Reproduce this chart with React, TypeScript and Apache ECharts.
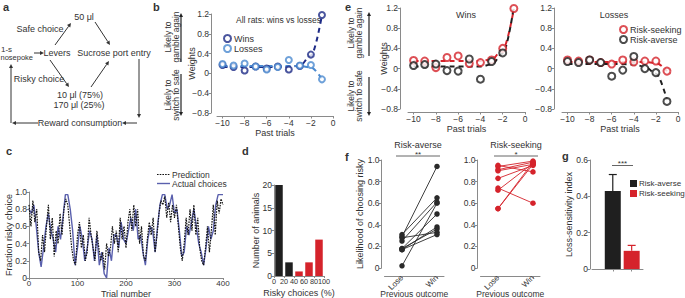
import React, { useEffect, useRef } from "react";
import * as echarts from "echarts";

const FONT = "'Liberation Sans', Arial, Helvetica, sans-serif";
const AX = "#8a8a8a";
const TX = "#333333";
const NAVY = "#1d2a86";
const LIGHT = "#4b8ad0";
const RED = "#d5232b";
const BLACK = "#1f1f1f";
const CBLUE = "#5a60ad";

// ---- panel b ----
const pastTrials = [-10, -9, -8, -7, -6, -5, -4, -3, -2, -1];
const pastTrialTicks = [-10, -8, -6, -4, -2, 0];
const bWins = [0.17, 0.13, 0.06, 0.14, 0.1, 0.14, 0.08, 0.15, 0.38, 1.18];
const bLosses = [0.19, 0.16, 0.2, 0.14, 0.08, 0.13, 0.27, 0.16, 0.17, -0.12];
const bWinsFit = [0.13, 0.13, 0.13, 0.13, 0.13, 0.13, 0.13, 0.16, 0.36, 1.18];
const bLossesFit = [0.15, 0.15, 0.15, 0.15, 0.15, 0.15, 0.15, 0.15, 0.12, -0.12];

// ---- panel e ----
const eWinsSeek = [0.16, 0.15, 0.02, 0.22, 0.25, 0.1, 0.12, 0.17, 0.4, 1.19];
const eWinsAverse = [0.06, 0.08, 0.09, -0.04, -0.05, 0.19, -0.21, 0.14, 0.31, 1.22];
const eWinsSeekFit = [0.15, 0.15, 0.15, 0.15, 0.15, 0.15, 0.15, 0.18, 0.38, 1.18];
const eWinsAverseFit = [0.04, 0.04, 0.04, 0.04, 0.04, 0.04, 0.04, 0.08, 0.3, 1.22];
const eLossSeek = [0.17, 0.15, 0.17, 0.12, 0.09, 0.17, 0.13, 0.15, 0.15, -0.05];
const eLossAverse = [0.14, 0.12, 0.17, 0.12, -0.15, -0.03, 0.24, 0.0, -0.08, -0.65];
const eLossSeekFit = [0.13, 0.13, 0.13, 0.13, 0.13, 0.13, 0.13, 0.13, 0.11, -0.05];
const eLossAverseFit = [0.09, 0.09, 0.09, 0.09, 0.09, 0.09, 0.08, 0.04, -0.1, -0.62];

// ---- panel c ----
const PRED_STEP = 4;
const prediction = [
  0.85, 0.6, 0.9, 0.65, 0.8, 0.3, 0.2, 0.5, 0.3, 0.6, 0.85, 0.45, 0.7, 0.25, 0.55, 0.4, 0.75, 0.5, 0.8, 0.92,
  0.85, 0.6, 0.35, 0.2, 0.15, 0.5, 0.65, 0.35, 0.5, 0.2, 0.3, 0.7, 0.5, 0.35, 0.2, 0.55, 0.35, 0.2, 0.3, 0.1,
  0.4, 0.25, 0.35, 0.6, 0.4, 0.55, 0.3, 0.7, 0.45, 0.6, 0.35, 0.65, 0.8, 0.55, 0.85, 0.6, 0.8, 0.4, 0.6, 0.25,
  0.2, 0.45, 0.65, 0.5, 0.7, 0.3, 0.5, 0.75, 0.9, 0.85, 0.95, 0.7, 0.88, 0.65, 0.85, 0.7, 0.85, 0.6, 0.35, 0.2,
  0.4, 0.7, 0.5, 0.8, 0.55, 0.85, 0.5, 0.7, 0.35, 0.2, 0.15, 0.35, 0.6, 0.3, 0.55, 0.85, 0.5, 0.9, 0.75, 0.92,
  0.85,
];
const ACT_STEP = 5;
const actualChoices = [
  0.8, 0.75, 0.85, 0.6, 0.3, 0.13, 0.35, 0.6, 0.75, 0.55, 0.45, 0.3, 0.6, 0.45, 0.7, 0.97, 0.97, 0.8, 0.55, 0.15,
  0.35, 0.6, 0.45, 0.2, 0.35, 0.55, 0.45, 0.2, 0.5, 0.15, 0.3, 0.05, 0.0, 0.35, 0.2, 0.5, 0.5, 0.35, 0.65, 0.45,
  0.4, 0.55, 0.7, 0.55, 0.8, 0.45, 0.5, 0.3, 0.15, 0.45, 0.6, 0.55, 0.3, 0.6, 0.85, 0.97, 0.97, 0.8, 0.85, 0.97,
  0.75, 0.8, 0.55, 0.25, 0.3, 0.6, 0.5, 0.65, 0.8, 0.6, 0.4, 0.3, 0.15, 0.35, 0.6, 0.45, 0.55, 0.85, 0.97, 0.97,
  0.97,
];
const cLegend = ["Prediction", "Actual choices"];

// ---- panel d ----
const dBins = [10, 30, 50, 70, 90];
const dCounts = [20, 3, 1, 3, 8];
const dTicks = [0, 20, 40, 60, 80, 100];

// ---- panel f ----
const fAverseLose = [0.29, 0.31, 0.25, 0.02, 0.18, 0.17, 0.18, 0.28, 0.17];
const fAverseWin = [0.94, 0.65, 0.61, 0.6, 0.5, 0.38, 0.36, 0.33, 0.31];
const fSeekLose = [0.95, 0.94, 0.91, 0.9, 0.83, 0.74, 0.72, 0.55, 0.55];
const fSeekWin = [0.89, 0.99, 0.98, 0.96, 0.95, 0.6, 0.97, 0.96, 0.98];
const outcomeLabels = ["Lose", "Win"];

// ---- panel g ----
const gGroups = [0, 1];
const gMeans = [0.43, 0.1];
const gUpper = [0.52, 0.13];
const gNames = ["Risk-averse", "Risk-seeking"];

const minus = (s: string) => s.replace("-", "\u2212");
const fmt1 = (v: number) => (Math.abs(v) < 1e-9 ? "0" : minus(v.toFixed(1)));
const fmtInt = (v: number) => minus(String(Math.round(v)));
const xy = (xs: number[], ys: number[]) => xs.map((x, i) => [x, ys[i]]);

function axis(gridIndex: number, o: any) {
  const { axisLabel, axisTick, axisLine, nameTextStyle, ...rest } = o;
  return {
    type: "value",
    gridIndex,
    nameLocation: "middle",
    nameMoveOverlap: false,
    splitLine: { show: false },
    axisLine: { show: true, onZero: false, lineStyle: { color: AX, width: 1 }, ...(axisLine || {}) },
    axisTick: { show: true, length: 2.5, lineStyle: { color: AX, width: 1 }, ...(axisTick || {}) },
    axisLabel: {
      fontSize: 8.5,
      color: TX,
      fontFamily: FONT,
      margin: 2,
      showMinLabel: true,
      showMaxLabel: true,
      ...(axisLabel || {}),
    },
    nameTextStyle: { fontSize: 9, color: TX, fontFamily: FONT, ...(nameTextStyle || {}) },
    ...rest,
  };
}

function txt(text: string, x: number, y: number, o: any = {}) {
  const align = o.align || "left";
  const va = o.va || "middle";
  return {
    type: "text",
    x,
    y,
    rotation: o.rotation || 0,
    silent: true,
    style: {
      text,
      fill: o.color || TX,
      fontSize: o.size || 9,
      fontFamily: FONT,
      fontWeight: o.bold ? "bold" : "normal",
      align,
      textAlign: align,
      verticalAlign: va,
      textVerticalAlign: va,
      lineHeight: o.lh || undefined,
    },
  };
}

function arrow(x1: number, y1: number, x2: number, y2: number, color = "#333", w = 1, h = 4) {
  const a = Math.atan2(y2 - y1, x2 - x1);
  const bx = x2 - h * Math.cos(a);
  const by = y2 - h * Math.sin(a);
  const px = Math.sin(a) * h * 0.5;
  const py = -Math.cos(a) * h * 0.5;
  return [
    { type: "line", silent: true, shape: { x1, y1, x2: bx, y2: by }, style: { stroke: color, lineWidth: w } },
    {
      type: "polygon",
      silent: true,
      shape: { points: [[x2, y2], [bx + px, by + py], [bx - px, by - py]] },
      style: { fill: color },
    },
  ];
}

function seg(x1: number, y1: number, x2: number, y2: number, color = "#333", w = 1, dash?: number[]) {
  return {
    type: "line",
    silent: true,
    shape: { x1, y1, x2, y2 },
    style: { stroke: color, lineWidth: w, lineDash: dash || null },
  };
}

function buildOption() {
  const grids = [
    { left: 217, top: 14, width: 116, height: 99 }, // b
    { left: 408, top: 8, width: 117, height: 101 }, // e wins
    { left: 562, top: 8, width: 116, height: 101 }, // e losses
    { left: 29, top: 192, width: 194, height: 86 }, // c
    { left: 274, top: 185, width: 50, height: 91 }, // d
    { left: 384.5, top: 160, width: 59.5, height: 108 }, // f averse
    { left: 480.5, top: 160, width: 59.5, height: 108 }, // f seeking
    { left: 592, top: 160, width: 51, height: 109 }, // g
  ].map((g) => ({ ...g, containLabel: false, outerBoundsMode: "none" }));

  const trialX = (gi: number, name: string, off: number) =>
    axis(gi, {
      min: -10.5,
      max: 0,
      offset: off,
      name,
      nameGap: 12,
      axisLabel: { customValues: pastTrialTicks, formatter: fmtInt },
      axisTick: { customValues: pastTrialTicks },
    });
  const weightY = (gi: number, name: string, off: number, gap: number) =>
    axis(gi, {
      min: -0.8,
      max: 1.2,
      interval: 0.4,
      offset: off,
      name,
      nameGap: gap,
      axisLabel: { formatter: fmt1 },
    });

  const outcomeX = (gi: number) =>
    axis(gi, {
      min: -0.5,
      max: 1.2,
      offset: 8,
      name: "Previous outcome",
      nameGap: 13.5,
      nameTextStyle: { fontSize: 8.5 },
      axisLabel: {
        customValues: [0, 1],
        rotate: 45,
        formatter: (v: number) => outcomeLabels[v],
        margin: 0.5,
        fontSize: 8,
      },
      axisTick: { customValues: [0, 1], length: 2 },
    });

  const xAxis = [
    trialX(0, "Past trials", 3),
    trialX(1, "Past trials", 3),
    trialX(2, "Past trials", 3),
    axis(3, {
      min: 0,
      max: 400,
      interval: 100,
      name: "Trial number",
      nameGap: 11,
      axisTick: { length: 2 },
      axisLabel: { fontSize: 8, margin: 1.5 },
    }),
    axis(4, {
      min: 0,
      max: 100,
      name: "Risky choices (%)",
      nameGap: 12,
      axisTick: { length: 2, customValues: dTicks },
      axisLabel: { fontSize: 7.3, margin: 1.5, customValues: dTicks, hideOverlap: false },
    }),
    outcomeX(5),
    outcomeX(6),
    axis(7, {
      min: -1.1,
      max: 1.6,
      axisLabel: { customValues: [0, 1], formatter: () => "" },
      axisTick: { customValues: [0, 1] },
    }),
  ];

  const yAxis = [
    weightY(0, "Weights", 6, 15),
    weightY(1, "Weights", 8, 12),
    weightY(2, "", 8, 12),
    axis(3, { min: 0, max: 1, interval: 0.2, name: "Fraction risky choice", nameGap: 16, axisLabel: { formatter: fmt1 } }),
    axis(4, { min: 0, max: 20, interval: 5, name: "Number of animals", nameGap: 14 }),
    axis(5, {
      min: 0,
      max: 1,
      interval: 0.2,
      offset: 3,
      name: "Likelihood of choosing risky",
      nameGap: 17,
      axisLabel: { formatter: fmt1 },
    }),
    axis(6, { min: 0, max: 1, interval: 0.2, offset: 3, axisLabel: { formatter: fmt1 } }),
    axis(7, {
      min: 0,
      max: 0.6,
      interval: 0.2,
      offset: 2,
      name: "Loss-sensitivity index",
      nameGap: 17,
      axisLabel: { formatter: fmt1 },
    }),
  ];

  const pts = (gi: number, name: string, ys: number[], color: string, size = 6) => ({
    name,
    type: "scatter",
    xAxisIndex: gi,
    yAxisIndex: gi,
    data: xy(pastTrials, ys),
    symbol: "emptyCircle",
    symbolSize: size,
    itemStyle: { color, borderColor: color, borderWidth: 1.8 },
    z: 4,
  });
  const fit = (gi: number, name: string, ys: number[], color: string) => ({
    name,
    type: "line",
    xAxisIndex: gi,
    yAxisIndex: gi,
    data: xy(pastTrials, ys),
    smooth: 0.35,
    smoothMonotone: "x",
    symbol: "none",
    lineStyle: { color, width: 2, type: [5, 4] },
    z: 3,
  });

  const series: any[] = [
    fit(0, "Wins fit", bWinsFit, NAVY),
    fit(0, "Losses fit", bLossesFit, LIGHT),
    pts(0, "Wins", bWins, NAVY),
    pts(0, "Losses", bLosses, LIGHT),
    fit(1, "Risk-seeking wins fit", eWinsSeekFit, RED),
    fit(1, "Risk-averse wins fit", eWinsAverseFit, BLACK),
    pts(1, "Risk-seeking", eWinsSeek, RED, 7),
    pts(1, "Risk-averse", eWinsAverse, BLACK, 7),
    fit(2, "Risk-seeking losses fit", eLossSeekFit, RED),
    fit(2, "Risk-averse losses fit", eLossAverseFit, BLACK),
    pts(2, "Risk-seeking", eLossSeek, RED, 7),
    pts(2, "Risk-averse", eLossAverse, BLACK, 7),
    {
      name: cLegend[1],
      type: "line",
      xAxisIndex: 3,
      yAxisIndex: 3,
      data: actualChoices.map((v, i) => [i * ACT_STEP, v]),
      symbol: "none",
      itemStyle: { color: CBLUE },
      lineStyle: { color: CBLUE, width: 1.4 },
      z: 2,
    },
    {
      name: cLegend[0],
      type: "line",
      xAxisIndex: 3,
      yAxisIndex: 3,
      data: prediction.map((v, i) => [i * PRED_STEP, v]),
      symbol: "none",
      itemStyle: { color: "#111" },
      lineStyle: { color: "#111", width: 1.2, type: [1.6, 1.1] },
      z: 3,
    },
    {
      name: "Risky choice histogram",
      type: "bar",
      xAxisIndex: 4,
      yAxisIndex: 4,
      barWidth: 7.5,
      data: dBins.map((b, i) => ({ value: [b, dCounts[i]], itemStyle: { color: b < 40 ? BLACK : RED } })),
    },
  ];

  fAverseLose.forEach((l, i) => {
    series.push({
      name: "averse rat " + (i + 1),
      type: "line",
      xAxisIndex: 5,
      yAxisIndex: 5,
      data: [
        [0, l],
        [1, fAverseWin[i]],
      ],
      symbol: "circle",
      symbolSize: 5.5,
      itemStyle: { color: "#2a2a2a" },
      lineStyle: { color: "#2a2a2a", width: 0.9 },
    });
  });
  fSeekLose.forEach((l, i) => {
    series.push({
      name: "seeking rat " + (i + 1),
      type: "line",
      xAxisIndex: 6,
      yAxisIndex: 6,
      data: [
        [0, l],
        [1, fSeekWin[i]],
      ],
      symbol: "circle",
      symbolSize: 5.5,
      itemStyle: { color: RED },
      lineStyle: { color: RED, width: 0.9 },
    });
  });

  series.push({
    name: "Loss-sensitivity index",
    type: "bar",
    xAxisIndex: 7,
    yAxisIndex: 7,
    barWidth: 16,
    data: gGroups.map((g, i) => ({ value: [g, gMeans[i]], itemStyle: { color: i === 0 ? BLACK : RED } })),
  });
  series.push({
    name: "SEM",
    type: "custom",
    xAxisIndex: 7,
    yAxisIndex: 7,
    data: gGroups.map((g, i) => [g, gMeans[i], gUpper[i]]),
    renderItem: (params: any, api: any) => {
      const x = api.value(0);
      const p0 = api.coord([x, api.value(1)]);
      const p1 = api.coord([x, api.value(2)]);
      const color = params.dataIndex === 0 ? BLACK : RED;
      return {
        type: "group",
        children: [
          { type: "line", shape: { x1: p0[0], y1: p0[1], x2: p1[0], y2: p1[1] }, style: { stroke: color, lineWidth: 1.2 } },
          { type: "line", shape: { x1: p1[0] - 4, y1: p1[1], x2: p1[0] + 4, y2: p1[1] }, style: { stroke: color, lineWidth: 1.2 } },
        ],
      };
    },
    z: 5,
  });

  const legendBase = {
    orient: "vertical",
    selectedMode: false,
    itemGap: 1,
    textStyle: { fontSize: 9, color: TX, fontFamily: FONT, padding: [0, 0, 0, -2] },
  };
  const legend = [
    { ...legendBase, data: ["Wins", "Losses"], left: 218, top: 29, itemWidth: 7, itemHeight: 7 },
    { ...legendBase, data: ["Risk-seeking", "Risk-averse"], left: 614, top: 20, itemWidth: 7, itemHeight: 7 },
  ];

  const g: any[] = [];
  // panel letters
  g.push(txt("a", 3, 1, { bold: true, size: 11, va: "top" }));
  g.push(txt("b", 153, 1, { bold: true, size: 11, va: "top" }));
  g.push(txt("e", 345, 1, { bold: true, size: 11, va: "top" }));
  g.push(txt("c", 6, 145, { bold: true, size: 11, va: "top" }));
  g.push(txt("d", 242, 145, { bold: true, size: 11, va: "top" }));
  g.push(txt("f", 345, 151, { bold: true, size: 11, va: "top" }));
  g.push(txt("g", 562, 150, { bold: true, size: 11, va: "top" }));

  // panel a flow diagram
  const A = { size: 9, align: "center" };
  g.push(txt("50 \u03bcl", 84, 17, A));
  g.push(txt("Safe choice", 40, 29, A));
  g.push(txt("1-s", 1, 49, { size: 8 }));
  g.push(txt("nosepoke", 0.5, 57.5, { size: 7.5 }));
  g.push(txt("Levers", 57, 53, A));
  g.push(txt("Sucrose port entry", 114, 53, A));
  g.push(txt("Risky choice", 39, 79, A));
  g.push(txt("10 \u03bcl (75%)", 80, 94.5, A));
  g.push(txt("170 \u03bcl (25%)", 79, 104.5, A));
  g.push(txt("Reward consumption", 80, 123, A));
  g.push(...arrow(34, 53, 44, 53));
  g.push(...arrow(55, 45, 71, 23));
  g.push(...arrow(95, 22, 110, 45));
  g.push(...arrow(50, 60, 69, 87));
  g.push(...arrow(91, 87, 109, 61));
  g.push(...arrow(139, 59, 139, 118));
  g.push(...arrow(137, 123, 122, 123));
  g.push(...arrow(38, 123, 12, 123));
  g.push(...arrow(11, 123, 11, 64));

  // panel b annotations
  g.push(txt("All rats: wins vs losses", 236, 20, { size: 8.5 }));
  g.push(txt("Likely to\ngamble again", 171.5, 37, { rotation: Math.PI / 2, align: "center", size: 8.5, lh: 8 }));
  g.push(txt("Likely to\nswitch to safe", 171.5, 95, { rotation: Math.PI / 2, align: "center", size: 8.5, lh: 8 }));
  g.push(...arrow(181, 62, 181, 13, "#222", 1.2, 4));
  g.push(...arrow(181, 74, 181, 116, "#222", 1.2, 4));

  // panel c legend
  g.push(seg(157, 174.5, 170, 174.5, "#111", 1.2, [1.6, 1.1]));
  g.push(txt(cLegend[0], 172, 174.5, { size: 8.5 }));
  g.push(seg(157, 183.5, 170, 183.5, CBLUE, 1.4));
  g.push(txt(cLegend[1], 172, 183.5, { size: 8.5 }));

  // panel e annotations
  g.push(txt("Wins", 466, 15, { align: "center", size: 9 }));
  g.push(txt("Losses", 614, 15, { align: "center", size: 9 }));
  g.push(txt("Likely to\ngamble again", 354.5, 33, { rotation: Math.PI / 2, align: "center", size: 8.5, lh: 8 }));
  g.push(txt("Likely to\nswitch to safe", 354.5, 96, { rotation: Math.PI / 2, align: "center", size: 8.5, lh: 8 }));
  g.push(...arrow(369, 56, 369, 12, "#222", 1.2, 4));
  g.push(...arrow(369, 77, 369, 116, "#222", 1.2, 4));

  // panel f titles and significance
  g.push(txt("Risk-averse", 418, 145, { align: "center", size: 9 }));
  g.push(seg(396, 156, 440, 156, "#555", 0.9));
  g.push(txt("**", 418, 154, { align: "center", size: 8 }));
  g.push(txt("Risk-seeking", 516, 145, { align: "center", size: 9 }));
  g.push(seg(494, 156, 538, 156, "#555", 0.9));
  g.push(txt("*", 516, 154, { align: "center", size: 8 }));

  // panel g significance and legend
  g.push(seg(612, 165.5, 633, 165.5, "#555", 0.9));
  g.push(txt("***", 622.5, 163, { align: "center", size: 8 }));
  g.push({ type: "rect", silent: true, shape: { x: 630, y: 180, width: 7, height: 7 }, style: { fill: BLACK } });
  g.push(txt(gNames[0], 639, 183.5, { size: 8 }));
  g.push({ type: "rect", silent: true, shape: { x: 630, y: 190, width: 7, height: 7 }, style: { fill: RED } });
  g.push(txt(gNames[1], 639, 193.5, { size: 8 }));

  return {
    animation: false,
    backgroundColor: "#ffffff",
    textStyle: { fontFamily: FONT },
    grid: grids,
    xAxis,
    yAxis,
    legend,
    series,
    graphic: g,
  };
}

export default function App() {
  const ref = useRef<HTMLDivElement>(null);
  useEffect(() => {
    document.body.style.margin = "0";
    const chart = echarts.init(ref.current as HTMLDivElement, null, { renderer: "svg" });
    chart.setOption(buildOption() as any);
    return () => chart.dispose();
  }, []);
  return <div ref={ref} style={{ width: 685, height: 298 }} />;
}
